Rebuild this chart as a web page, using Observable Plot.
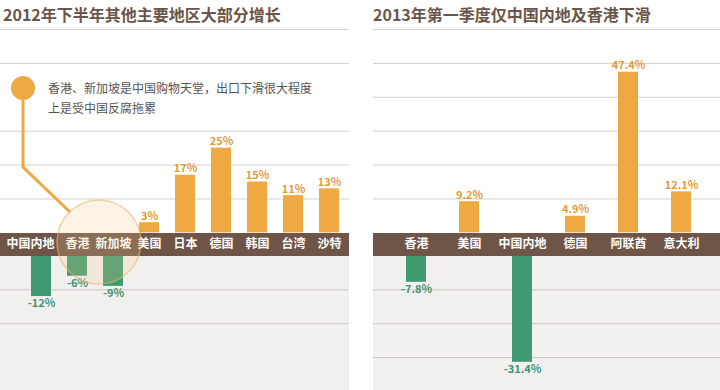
<!DOCTYPE html>
<html><head><meta charset="utf-8">
<script src="https://cdn.jsdelivr.net/npm/d3@7"></script>
<script src="https://cdn.jsdelivr.net/npm/@observablehq/plot@0.6"></script>
<style>
body{margin:0;background:#fff;font-family:"Noto Sans CJK SC","Noto Sans",sans-serif;overflow:hidden;width:720px;height:390px;position:relative}
.panel{position:absolute;top:0;height:390px;overflow:hidden}
.title{height:29px;line-height:29px;font-size:16px;font-weight:bold;color:#6a554a;white-space:nowrap}
.note{position:absolute;left:48px;top:78px;font-size:12px;line-height:20px;color:#555;white-space:nowrap}
.overlay{position:absolute;left:0;top:0;pointer-events:none}
</style></head><body>
<div id="left" class="panel" style="left:0;width:349px"><div class="title" style="padding-left:3px">2012年下半年其他主要地区大部分增长</div></div>
<div id="right" class="panel" style="left:373px;width:347px"><div class="title">2013年第一季度仅中国内地及香港下滑</div></div>
<script>
// ---- data ----
const leftCats = ["中国内地","香港","新加坡","美国","日本","德国","韩国","台湾","沙特"];
const leftVals = [-12,-6,-9,3,17,25,15,11,13];
const rightCats = ["香港","美国","中国内地","德国","阿联酋","意大利"];
const rightVals = [-7.8,9.2,-31.4,4.9,47.4,12.1];
const leftPosGrid = [10,20,30,50,60];
const leftNegGrid = [-10,-20];
const rightPosGrid = [10,20,30,40,50,60];
const rightNegGrid = [-10,-20,-30];
const noteLines = ["香港、新加坡是中国购物天堂，出口下滑很大程度","上是受中国反腐拖累"];

const ORANGE = "#efa942", GREEN = "#3f9a72", BAND = "#6e5547", GRAY = "#f2f0ee";
const BANDH = 23;
const yMin = -46.5, yMax = 60;

function panel(cats, vals, posGrid, negGrid, width, xopts, digits, firstDx) {
  const data = cats.map((c, i) => ({cat: c, v: vals[i]}));
  const pos = data.filter(d => d.v >= 0), neg = data.filter(d => d.v < 0);
  const fmt = v => v.toFixed(digits) + "%";
  return Plot.plot({
    width, height: 361,
    marginTop: 0, marginBottom: 0, marginLeft: 0, marginRight: 0,
    style: {background: "transparent", overflow: "visible", fontFamily: '"Noto Sans CJK SC", sans-serif'},
    x: {domain: cats, axis: null, ...xopts},
    y: {domain: [yMin, yMax], range: [361, 0], axis: null},
    marks: [
      Plot.rect([null], {y1: () => yMin, y2: () => 0, dy: BANDH, fill: GRAY}),
      Plot.ruleY(posGrid, {stroke: "#d2d0ce", strokeWidth: 1}),
      Plot.ruleY(negGrid, {stroke: "#c9c6c3", strokeWidth: 1, dy: BANDH}),
      Plot.barY(pos, {x: "cat", y: "v", fill: ORANGE}),
      Plot.barY(neg, {x: "cat", y: "v", fill: GREEN, dy: BANDH}),
      Plot.ruleY([0], {stroke: BAND, strokeWidth: BANDH, dy: BANDH / 2}),
      Plot.text(pos, {x: "cat", y: "v", text: d => fmt(d.v), fill: "#e39b33", fontWeight: "bold", fontSize: 11, lineAnchor: "bottom", dy: -3}),
      Plot.text(neg, {x: "cat", y: "v", text: d => fmt(d.v), fill: "#3d9470", fontWeight: "bold", fontSize: 11, lineAnchor: "top", dy: BANDH + 3}),
      Plot.text(cats.slice(1), {x: d => d, y: () => 0, dy: BANDH / 2, fill: "#fff", fontWeight: "bold", fontSize: 12}),
      Plot.text(cats.slice(0, 1), {x: d => d, y: () => 0, dy: BANDH / 2, dx: firstDx, fill: "#fff", fontWeight: "bold", fontSize: 12})
    ]
  });
}

const left = panel(leftCats, leftVals, leftPosGrid, leftNegGrid, 349,
  {paddingInner: 0.444, paddingOuter: 0.567, align: 0.76}, 0, -11);
const right = panel(rightCats, rightVals, rightPosGrid, rightNegGrid, 347,
  {paddingInner: 0.63, paddingOuter: 0.528, align: 0.53}, 1, 0);
document.getElementById("left").appendChild(left);
document.getElementById("right").appendChild(right);

// ---- annotation callout (left panel) ----
const lp = document.getElementById("left");
const note = document.createElement("div");
note.className = "note";
note.innerHTML = noteLines.join("<br>");
lp.appendChild(note);
const ns = "http://www.w3.org/2000/svg";
const ov = document.createElementNS(ns, "svg");
ov.setAttribute("class", "overlay");
ov.setAttribute("width", 349); ov.setAttribute("height", 390);
ov.innerHTML = `
  <polyline points="23,88 23,167 70,212" fill="none" stroke="#eca843" stroke-width="3"/>
  <circle cx="23" cy="88" r="12" fill="#efa942"/>
  <circle cx="99" cy="242" r="42" fill="#f3c98f" fill-opacity="0.22" stroke="#ebb56e" stroke-opacity="0.6" stroke-width="1.5"/>`;
lp.appendChild(ov);
</script>
</body></html>
